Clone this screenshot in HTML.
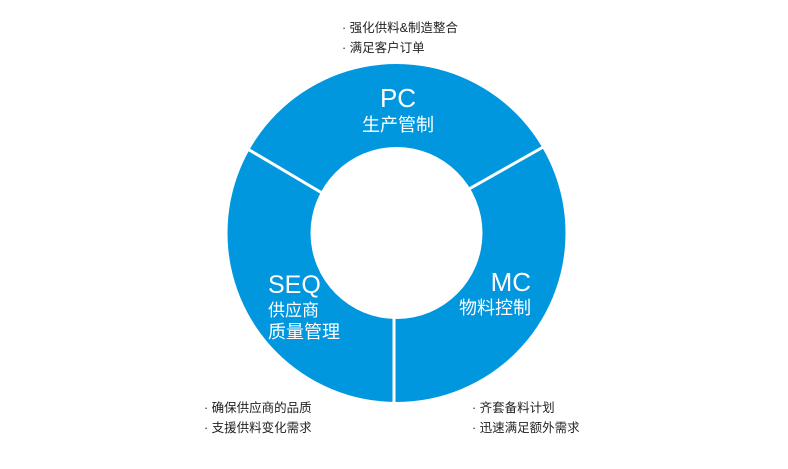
<!DOCTYPE html>
<html><head><meta charset="utf-8"><style>
html,body{margin:0;padding:0;background:#fff;width:788px;height:469px;overflow:hidden}
svg{display:block}
text{font-family:"Liberation Sans","Noto Sans CJK SC",sans-serif}
</style></head><body>
<svg width="788" height="469" viewBox="0 0 788 469">
<path fill-rule="evenodd" fill="#0097DF" d="M227.5,233 A169,169 0 1,0 565.5,233 A169,169 0 1,0 227.5,233 Z M310.5,233 A86,86 0 1,0 482.5,233 A86,86 0 1,0 310.5,233 Z"/>
<g stroke="#fff" stroke-width="3">
<line x1="394" y1="317" x2="394" y2="405"/>
<line x1="246" y1="148" x2="322" y2="193"/>
<line x1="545" y1="146" x2="469" y2="189"/>
</g>
<g fill="#fff">
<text x="398" y="107" font-size="26" text-anchor="middle">PC</text>
<text x="398" y="131" font-size="18" text-anchor="middle">生产管制</text>
<text x="268" y="293" font-size="25">SEQ</text>
<text x="268" y="316" font-size="17">供应商</text>
<text x="268" y="338" font-size="18">质量管理</text>
<text x="531" y="291" font-size="26" text-anchor="end">MC</text>
<text x="531" y="314" font-size="18" text-anchor="end">物料控制</text>
</g>
<g fill="#222" font-size="12.5">
<text x="342" y="32">· 强化供料&amp;制造整合</text>
<text x="342" y="52">· 满足客户订单</text>
<text x="204" y="412">· 确保供应商的品质</text>
<text x="204" y="432">· 支援供料变化需求</text>
<text x="472" y="412">· 齐套备料计划</text>
<text x="472" y="432">· 迅速满足额外需求</text>
</g>
</svg>
</body></html>
